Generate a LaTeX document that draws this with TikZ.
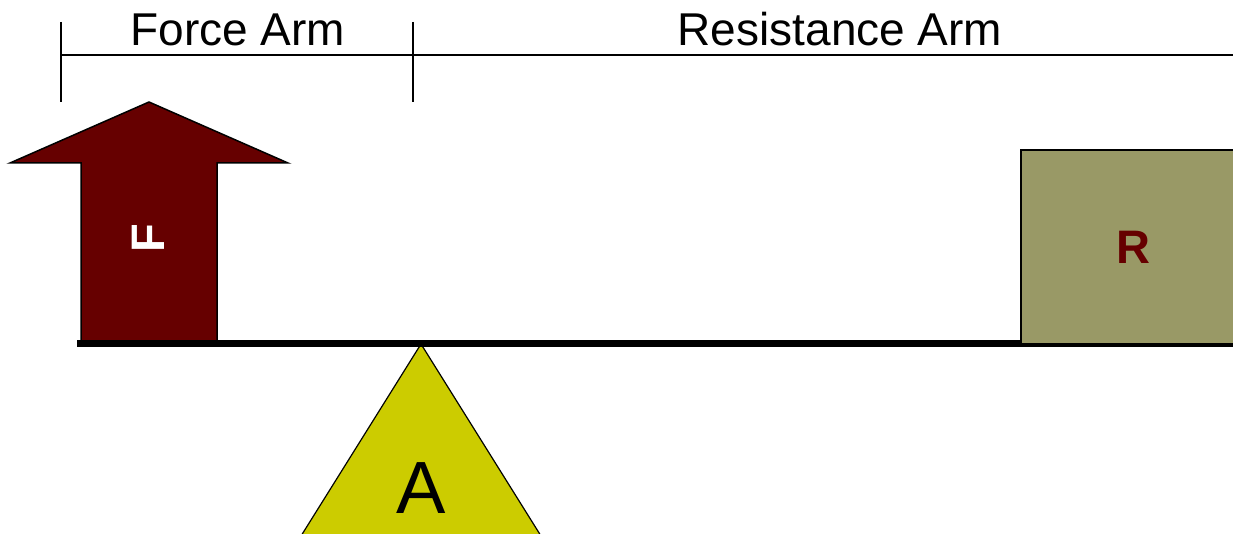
\documentclass[tikz,border=0pt]{standalone}
\usepackage{fontspec}
\setmainfont{Liberation Sans}
\definecolor{darkred}{HTML}{660000}
\definecolor{olive}{HTML}{999966}
\definecolor{fulcrum}{HTML}{CCCC00}
\begin{document}
\begin{tikzpicture}[x=1pt,y=-1pt,
  dim/.style={line width=2pt,black},
  armlabel/.style={font=\fontsize{46}{50}\selectfont,anchor=base,inner sep=0pt},
  biglabel/.style={font=\fontsize{47}{50}\selectfont\bfseries,inner sep=0pt}]
\useasboundingbox (0,0) rectangle (1233,534);
% dimension lines
\draw[dim] (61,22) -- (61,102);
\draw[dim] (413,22) -- (413,102);
\draw[dim] (61,55) -- (1233,55);
\node[armlabel] (fa) at (238,46) {Force Arm};
\node[armlabel] (ra) at (840,46) {Resistance Arm};
% force arrow
\draw[fill=darkred,line width=1.5pt,line join=miter]
  (81,342) -- (81,163) -- (10,163) -- (149,102) -- (288,163) -- (217,163) -- (217,342);
\node[biglabel,text=white,rotate=90] (f) at (148,238) {F};
% triangle fulcrum
\draw[fill=fulcrum,line width=1.2pt] (421,344) -- (541,536) -- (301,536) -- cycle;
\node[font=\fontsize{74}{80}\selectfont,inner sep=0pt,anchor=base] (a) at (421,513) {A};
% beam
\draw[line width=7pt] (77,343) -- (1233,343);
% resistance box
\draw[fill=olive,line width=2pt] (1021,344) -- (1021,150) -- (1236,150) -- (1236,344) -- cycle;
\node[biglabel,text=darkred] (r) at (1133,247) {R};
\end{tikzpicture}
\end{document}
